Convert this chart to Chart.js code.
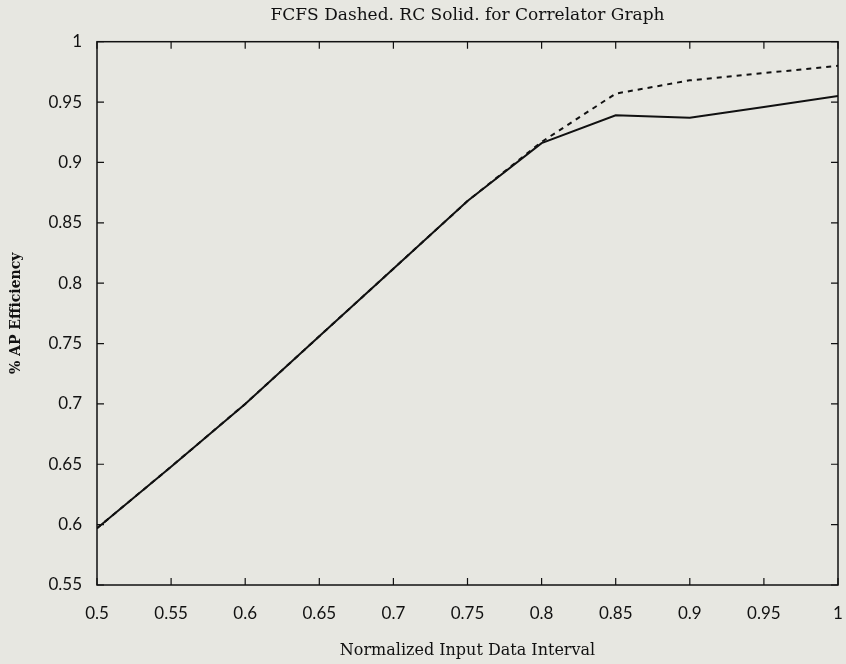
<!DOCTYPE html>
<html>
<head>
<meta charset="utf-8">
<script src="https://cdn.jsdelivr.net/npm/chart.js@4"></script>
<style>
  html, body { margin: 0; padding: 0; background: #e7e7e1; }
  #wrap { width: 846px; height: 664px; }
</style>
</head>
<body>
<div id="wrap"><canvas id="effChart" width="846" height="664"></canvas></div>
<script>
// data
const intervals = [0.5, 0.55, 0.6, 0.65, 0.7, 0.75, 0.8, 0.85, 0.9, 0.95, 1];
const rcSolid   = [0.597, 0.648, 0.700, 0.756, 0.812, 0.868, 0.916, 0.939, 0.937, 0.946, 0.955];
const fcfsDash  = [0.597, 0.648, 0.700, 0.756, 0.812, 0.868, 0.917, 0.957, 0.968, 0.974, 0.980];
const xTicks = [0.5, 0.55, 0.6, 0.65, 0.7, 0.75, 0.8, 0.85, 0.9, 0.95, 1];
const yTicks = [0.55, 0.6, 0.65, 0.7, 0.75, 0.8, 0.85, 0.9, 0.95, 1];

const toPts = (ys) => intervals.map((x, i) => ({ x: x, y: ys[i] }));
const fmt = (v) => String(+v.toFixed(2));

// box round the plot + little inward ticks on all four sides
const framePlugin = {
  id: "frame",
  afterDraw(chart) {
    const { ctx, chartArea: a, scales } = chart;
    ctx.save();
    ctx.strokeStyle = "#111";
    ctx.lineWidth = 1.5;
    ctx.strokeRect(a.left, a.top, a.right - a.left, a.bottom - a.top);
    ctx.lineWidth = 1.2;
    const len = 7;
    xTicks.forEach(v => {
      const px = scales.x.getPixelForValue(v);
      ctx.beginPath();
      ctx.moveTo(px, a.bottom); ctx.lineTo(px, a.bottom - len);
      ctx.moveTo(px, a.top);    ctx.lineTo(px, a.top + len);
      ctx.stroke();
    });
    yTicks.forEach(v => {
      const py = scales.y.getPixelForValue(v);
      ctx.beginPath();
      ctx.moveTo(a.left, py);  ctx.lineTo(a.left + len, py);
      ctx.moveTo(a.right, py); ctx.lineTo(a.right - len, py);
      ctx.stroke();
    });
    ctx.restore();
  }
};

const ctx = document.getElementById("effChart").getContext("2d");

new Chart(ctx, {
  type: "line",
  data: {
    datasets: [
      {
        label: "RC",
        data: toPts(rcSolid),
        borderColor: "#111",
        borderWidth: 2,
        pointRadius: 0,
        tension: 0,
        fill: false
      },
      {
        label: "FCFS",
        data: toPts(fcfsDash),
        borderColor: "#111",
        borderWidth: 2,
        borderDash: [5, 5],
        pointRadius: 0,
        tension: 0,
        fill: false
      }
    ]
  },
  options: {
    responsive: false,
    animation: false,
    layout: { padding: { left: 0, right: 8, top: 0, bottom: 0 } },
    plugins: {
      legend: { display: false },
      tooltip: { enabled: false },
      title: {
        display: true,
        fullSize: false,
        text: "FCFS Dashed. RC Solid. for Correlator Graph",
        color: "#111",
        font: { family: "DejaVu Serif", size: 17, weight: "normal", lineHeight: 1.1 },
        padding: { top: 6, bottom: 17 }
      }
    },
    scales: {
      x: {
        type: "linear",
        min: 0.5,
        max: 1,
        afterBuildTicks: (s) => { s.ticks = xTicks.map(v => ({ value: v })); },
        afterFit: (s) => { s.height = 79; s.paddingLeft = 0; s.paddingRight = 0; },
        grid: { display: false },
        border: { display: false },
        ticks: {
          color: "#111",
          padding: 10,
          maxRotation: 0,
          font: { family: "Lato", size: 17 },
          callback: fmt
        },
        title: {
          display: true,
          text: "Normalized Input Data Interval",
          color: "#111",
          font: { family: "DejaVu Serif", size: 16 },
          padding: { top: 20, bottom: 4 }
        }
      },
      y: {
        min: 0.55,
        max: 1,
        afterBuildTicks: (s) => { s.ticks = yTicks.map(v => ({ value: v })); },
        afterFit: (s) => { s.width = 97; },
        grid: { display: false },
        border: { display: false },
        ticks: {
          color: "#111",
          padding: 7,
          font: { family: "Lato", size: 17 },
          callback: fmt
        },
        title: {
          display: true,
          text: "% AP Efficiency",
          color: "#111",
          font: { family: "DejaVu Serif", size: 14, weight: "bold" },
          padding: { top: 8, bottom: 0 }
        }
      }
    }
  },
  plugins: [framePlugin]
});
</script>
</body>
</html>
